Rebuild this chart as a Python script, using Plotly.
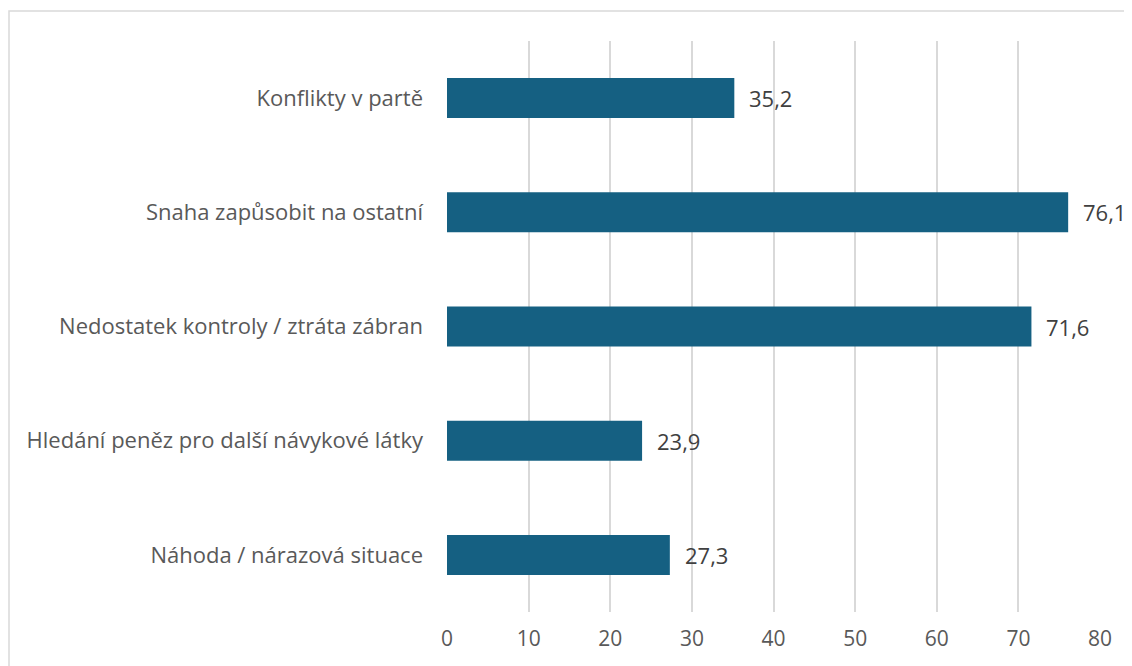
import plotly.graph_objects as go

# data
categories = [
    "Konflikty v partě",
    "Snaha zapůsobit na ostatní",
    "Nedostatek kontroly / ztráta zábran",
    "Hledání peněz pro další návykové látky",
    "Náhoda / nárazová situace",
]
values = [35.2, 76.1, 71.6, 23.9, 27.3]
x_ticks = [0, 10, 20, 30, 40, 50, 60, 70, 80]

BAR_COLOR = "#156082"
TEXT_COLOR = "#595959"
GRID_COLOR = "#d9d9d9"
FONT = "Open Sans"

# the page body has an 8px margin, margins below take that into account
L, R, T, B = 439, 40, 33, 62
W, H = 1132, 666
pw, ph = W - L - R, H - T - B

fig = go.Figure()
fig.add_trace(go.Bar(
    x=values,
    y=categories,
    orientation="h",
    marker=dict(color=BAR_COLOR, line=dict(width=0)),
    width=0.35,
    hoverinfo="skip",
))

# value labels next to the bars
for cat, val in zip(categories, values):
    fig.add_annotation(
        x=val, y=cat, xref="x", yref="y",
        text=f"{val:.1f}".replace(".", ","),
        showarrow=False, xanchor="left", xshift=13,
        font=dict(family=FONT, size=22, color="#404040"),
    )

# chart border like the Office frame
fig.add_shape(type="rect", xref="paper", yref="paper",
              x0=(1 - L) / pw, x1=1.2, y0=-0.3, y1=1 + (T - 3) / ph,
              line=dict(color="#d9d9d9", width=1.5), layer="below")

fig.update_layout(
    width=W, height=H,
    margin=dict(l=L, r=R, t=T, b=B),
    paper_bgcolor="white", plot_bgcolor="white",
    showlegend=False,
    font=dict(family=FONT, size=22, color=TEXT_COLOR),
)
fig.update_xaxes(
    range=[0, 80], tickvals=x_ticks, showgrid=True, gridcolor=GRID_COLOR,
    gridwidth=1.5, zeroline=False, showline=False, ticks="",
    ticklabelstandoff=12, tickfont=dict(size=21), fixedrange=True,
)
fig.update_yaxes(
    autorange="reversed", showgrid=False, zeroline=False, showline=False,
    ticks="", ticklabelstandoff=23, fixedrange=True,
)

fig.write_html("out.html")
